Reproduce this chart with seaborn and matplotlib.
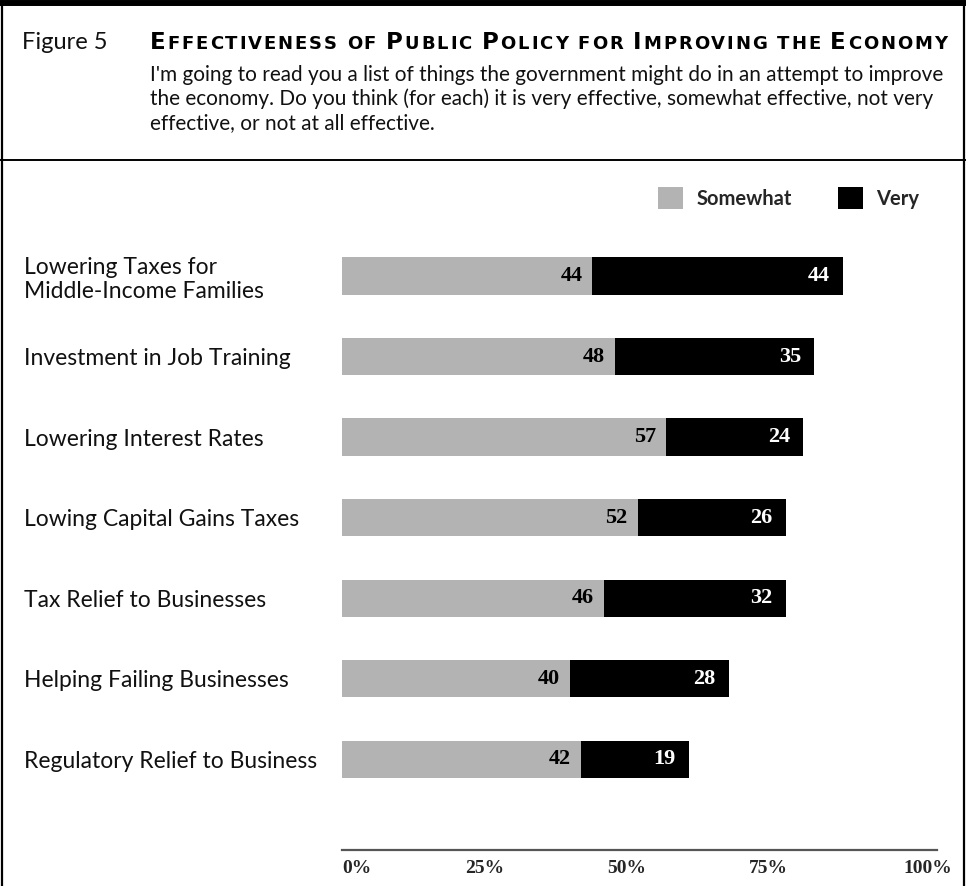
import numpy as np
import pandas as pd
import matplotlib
matplotlib.use("Agg")
import matplotlib.pyplot as plt
import matplotlib.transforms as mtransforms
import seaborn as sns
from matplotlib.lines import Line2D
from matplotlib.patches import Patch
from matplotlib.offsetbox import TextArea, HPacker, AnchoredOffsetbox

# ---------------- data ----------------
categories = [
    "Lowering Taxes for\nMiddle-Income Families",
    "Investment in Job Training",
    "Lowering Interest Rates",
    "Lowing Capital Gains Taxes",
    "Tax Relief to Businesses",
    "Helping Failing Businesses",
    "Regulatory Relief to Business",
]
somewhat = [44, 48, 57, 52, 46, 40, 42]
very = [44, 35, 24, 26, 32, 28, 19]
series_names = ["Somewhat", "Very"]
tick_values = [0, 25, 50, 75, 100]
tick_labels = ["0%", "25%", "50%", "75%", "100%"]

figure_label = "Figure 5"
title_words = ["Effectiveness", "of", "Public", "Policy", "for", "Improving", "the", "Economy"]
subtitle_lines = [
    "I'm going to read you a list of things the government might do in an attempt to improve",
    "the economy. Do you think (for each) it is very effective, somewhat effective, not very",
    "effective, or not at all effective.",
]

# ---------------- style ----------------
GRAY = "#b3b3b3"
BLACK = "#000000"
SANS = ["Lato", "DejaVu Sans"]
TITLE_FONT = ["DejaVu Sans"]
SERIF = ["Liberation Serif", "DejaVu Serif"]
W, H = 966, 886
DPI = 100

sns.set_theme(style="white")
plt.rcParams["font.family"] = SANS


def fx(px):
    return px / W


def fy(py):
    return 1 - py / H


fig = plt.figure(figsize=(W / DPI, H / DPI), dpi=DPI)
fig.patch.set_facecolor("white")

ax = fig.add_axes([fx(342), fy(850), fx(937) - fx(342), fy(200) - fy(850)])

df = pd.DataFrame({"category": categories, "somewhat": somewhat, "very": very})
df["total"] = df["somewhat"] + df["very"]

sns.barplot(data=df, y="category", x="total", color=BLACK, saturation=1,
            width=0.46, linewidth=0, ax=ax, orient="h")
sns.barplot(data=df, y="category", x="somewhat", color=GRAY, saturation=1,
            width=0.46, linewidth=0, ax=ax, orient="h")

ax.set_xlim(0, 104.6)
ax.set_ylim(7.130, -0.944)
ax.set_xlabel("")
ax.set_ylabel("")

# value labels
for i, (s, v) in enumerate(zip(somewhat, very)):
    ax.annotate(str(s), xy=(s, i), xytext=(-10, 0), textcoords="offset pixels",
                ha="right", va="center", color=BLACK, fontsize=16,
                fontweight="bold", family=SERIF)
    ax.annotate(str(v), xy=(s + v, i), xytext=(-13, 0), textcoords="offset pixels",
                ha="right", va="center", color="white", fontsize=16,
                fontweight="bold", family=SERIF)

# y tick labels (categories), left aligned at the left margin
ax.tick_params(axis="y", length=0, pad=(342 - 24) * 72 / DPI)
for t in ax.get_yticklabels():
    t.set_ha("left")
    t.set_fontsize(16.5)
    t.set_linespacing(1.15)
    t.set_color("#111111")

# x ticks
ax.set_xticks(tick_values)
ax.set_xticklabels(tick_labels)
ax.tick_params(axis="x", length=0, pad=7)
xt = ax.get_xticklabels()
for j, t in enumerate(xt):
    t.set_family(SERIF)
    t.set_fontweight("bold")
    t.set_fontsize(14)
xt[0].set_ha("left")
xt[-1].set_ha("left")
xt[-1].set_transform(xt[-1].get_transform() +
                     mtransforms.ScaledTranslation(-7 / DPI, 0, fig.dpi_scale_trans))

for side in ["left", "top", "right"]:
    ax.spines[side].set_visible(False)
ax.spines["bottom"].set_color("#555555")
ax.spines["bottom"].set_linewidth(1.6)
ax.grid(False)

# legend
handles = [Patch(facecolor=GRAY, edgecolor="none", label=series_names[0]),
           Patch(facecolor=BLACK, edgecolor="none", label=series_names[1])]
fig.legend(handles=handles, loc="center left", bbox_to_anchor=(fx(658), fy(198)),
           ncol=2, frameon=False, handlelength=1.25, handleheight=1.25,
           handletextpad=0.65, columnspacing=2.3, borderpad=0, borderaxespad=0,
           prop={"family": SANS, "weight": "bold", "size": 14.5})

# ---------------- header ----------------
fig.text(fx(22), fy(49), figure_label, fontsize=17, va="baseline", color="#111111")

big, small = 16.5, 13
pieces = []
title_text = " ".join(title_words)
word_start = True
for ch in title_text:
    if ch == " ":
        pieces.append(TextArea(" ", textprops=dict(fontsize=small, fontweight="bold",
                                                   family=TITLE_FONT)))
        word_start = True
        continue
    is_big = word_start and ch.isupper()
    pieces.append(TextArea(ch.upper(), textprops=dict(
        fontsize=big if is_big else small, fontweight="bold", color=BLACK,
        family=TITLE_FONT)))
    word_start = False
title_box = HPacker(children=pieces, align="baseline", pad=0, sep=0)
anchored = AnchoredOffsetbox(loc="lower left", child=title_box, pad=0, borderpad=0,
                             frameon=False, bbox_to_anchor=(fx(150), fy(54)),
                             bbox_transform=fig.transFigure)
fig.add_artist(anchored)

sub_texts = []
for k, line in enumerate(subtitle_lines):
    sub_texts.append(fig.text(fx(150), fy(81 + 24 * k), line, fontsize=14,
                              va="baseline", color="#111111"))

# fit title tracking and subtitle size to the header width
fig.canvas.draw()
renderer = fig.canvas.get_renderer()
target_w = 797
w0 = title_box.get_bbox(renderer).width
title_box.sep = (target_w - w0) / (len(pieces) - 1) * 72 / DPI
ws = sub_texts[0].get_window_extent(renderer).width
for t in sub_texts:
    t.set_fontsize(14 * 796 / ws)

# ---------------- frame ----------------
fig.add_artist(Line2D([0, 1], [fy(3), fy(3)], color=BLACK, lw=4.3, transform=fig.transFigure))
fig.add_artist(Line2D([fx(1.5), fx(1.5)], [0, fy(3)], color=BLACK, lw=1.6, transform=fig.transFigure))
fig.add_artist(Line2D([fx(963.5), fx(963.5)], [0, fy(3)], color=BLACK, lw=1.6, transform=fig.transFigure))
fig.add_artist(Line2D([0, 1], [fy(160), fy(160)], color=BLACK, lw=1.4, transform=fig.transFigure))

fig.savefig("out.png", dpi=DPI, facecolor="white")
